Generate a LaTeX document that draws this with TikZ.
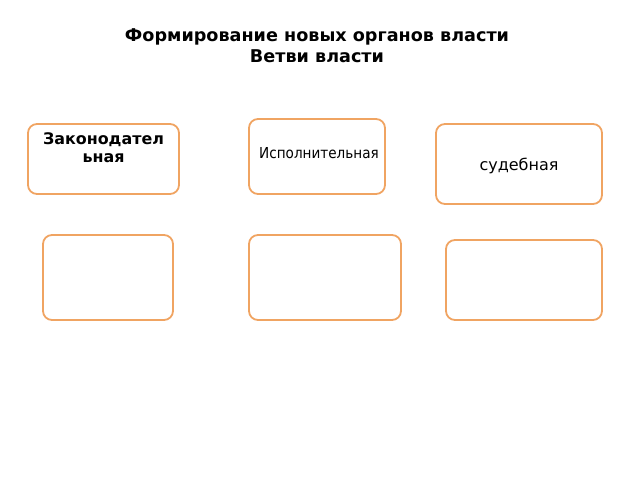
\documentclass[tikz,border=0pt]{standalone}
\usepackage{fontspec}
\setmainfont{DejaVu Sans}
\newfontfamily\condfont{DejaVu Sans Condensed}
\usetikzlibrary{positioning}
\definecolor{boxorange}{HTML}{F0A462}

\begin{document}
\begin{tikzpicture}[x=1pt,y=-1pt,
				branch/.style={draw=boxorange,line width=1.8pt,rounded corners=9pt,rectangle,outer sep=0pt,inner sep=0pt},
				title/.style={font=\bfseries\fontsize{17.6}{21}\selectfont,align=center}]
				\useasboundingbox (0,0) rectangle (640,480);
				\node (TITLE) [title] at (317,46) {Формирование новых органов власти\\Ветви власти};
				% upper row
				\node (LEG)   [branch,minimum width=151pt,minimum height=70pt] at (103.5,159) {};
				\node (EXE)   [branch,minimum width=136pt,minimum height=75pt] at (317,156.5) {};
				\node (JUD)   [branch,minimum width=166pt,minimum height=80pt] at (519,164) {};
				\node (LEGT)  [below=5pt of LEG.north,anchor=north,align=center,
					font=\bfseries\fontsize{15.9}{18}\selectfont] {Законодател\\ьная};
				\node (EXET)  [font=\condfont\fontsize{15.1}{17}\selectfont] at (319,153) {Исполнительная};
				\node (JUDT)  [font=\fontsize{16}{18}\selectfont] at (519,165.5) {судебная};
				% lower row
				\node (LEGB)  [branch,minimum width=130pt,minimum height=85pt] at (108,277.5) {};
				\node (EXEB)  [branch,minimum width=152pt,minimum height=85pt] at (325,277.5) {};
				\node (JUDB)  [branch,minimum width=156pt,minimum height=80pt] at (524,280) {};
			\end{tikzpicture}
\end{document}
